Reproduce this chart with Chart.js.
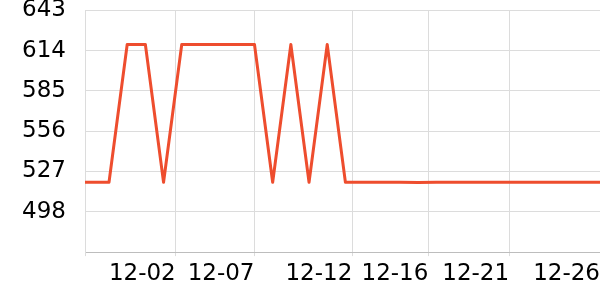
<!DOCTYPE html>
<html>
<head>
<meta charset="utf-8">
<script src="https://cdn.jsdelivr.net/npm/chart.js@4/dist/chart.umd.min.js"></script>
<style>
    html, body { margin: 0; padding: 0; background: #fff; }
    #wrap { width: 600px; height: 300px; }
</style>
</head>
<body>
<div id="wrap"><canvas id="lineChart"></canvas></div>
<script>
// x is the position of each point along the axis (one step per reading)
const pointSlots = [-0.32, 1, 2, 3, 4, 5, 6, 7, 8, 9, 10, 11, 12, 13, 14, 15, 16, 17, 18, 19, 20, 21, 22, 23, 24, 25, 26, 27, 28];
const pointValues = [519.3, 519.3, 618.4, 618.4, 519.3, 618.4, 618.4, 618.4, 618.4, 618.4, 519.3, 618.4, 519.3, 618.4, 519.3, 519.3, 519.3, 519.3, 519.1, 519.3, 519.3, 519.3, 519.3, 519.3, 519.3, 519.3, 519.3, 519.3, 519.3];

const tickSlots = [-0.32, 4.67, 9, 14.38, 18.56, 23, 28];
const tickLabels = ["", "12-02", "12-07", "12-12", "12-16", "12-21", "12-26"];

const yMin = 469;
const yMax = 643;
const yStep = 29;

let lineColor = "rgb(238, 77, 46)";
let gridColor = "#dcdcdc";

let points = pointSlots.map((x, i) => ({ x: x, y: pointValues[i] }));

new Chart(document.getElementById("lineChart"), {
    type: "line",
    data: {
        datasets: [
            {
                data: points,
                borderColor: lineColor,
                borderWidth: 3,
                borderJoinStyle: "round",
                pointRadius: 0,
                tension: 0,
                fill: false,
            },
        ],
    },
    options: {
        responsive: true,
        maintainAspectRatio: false,
        animation: false,
        layout: {
            padding: { top: 0, right: 0, bottom: 8, left: 22 },
        },
        plugins: {
            legend: { display: false },
            tooltip: { enabled: false },
        },
        scales: {
            x: {
                type: "linear",
                min: tickSlots[0],
                max: tickSlots[tickSlots.length - 1],
                afterBuildTicks(scale) {
                    scale.ticks = tickSlots.map(v => ({ value: v }));
                },
                grid: {
                    color: gridColor,
                    tickLength: 4,
                },
                border: { color: "#bdbdbd" },
                ticks: {
                    autoSkip: false,
                    maxRotation: 0,
                    align: "end",
                    padding: 0,
                    color: "#000",
                    font: { family: "DejaVu Sans", size: 23, lineHeight: 1.56 },
                    callback(value, index) {
                        return tickLabels[index];
                    },
                },
            },
            y: {
                min: yMin,
                max: yMax,
                afterFit(scale) {
                    scale.width = 63;
                },
                grid: {
                    color: gridColor,
                    drawTicks: false,
                },
                border: { color: gridColor },
                ticks: {
                    stepSize: yStep,
                    padding: 0,
                    crossAlign: "far",
                    color: "#000",
                    font: { family: "DejaVu Sans", size: 23, lineHeight: 0.9 },
                    callback(value) {
                        return value === yMin ? "" : value;
                    },
                },
            },
        },
    },
});
</script>
</body>
</html>
